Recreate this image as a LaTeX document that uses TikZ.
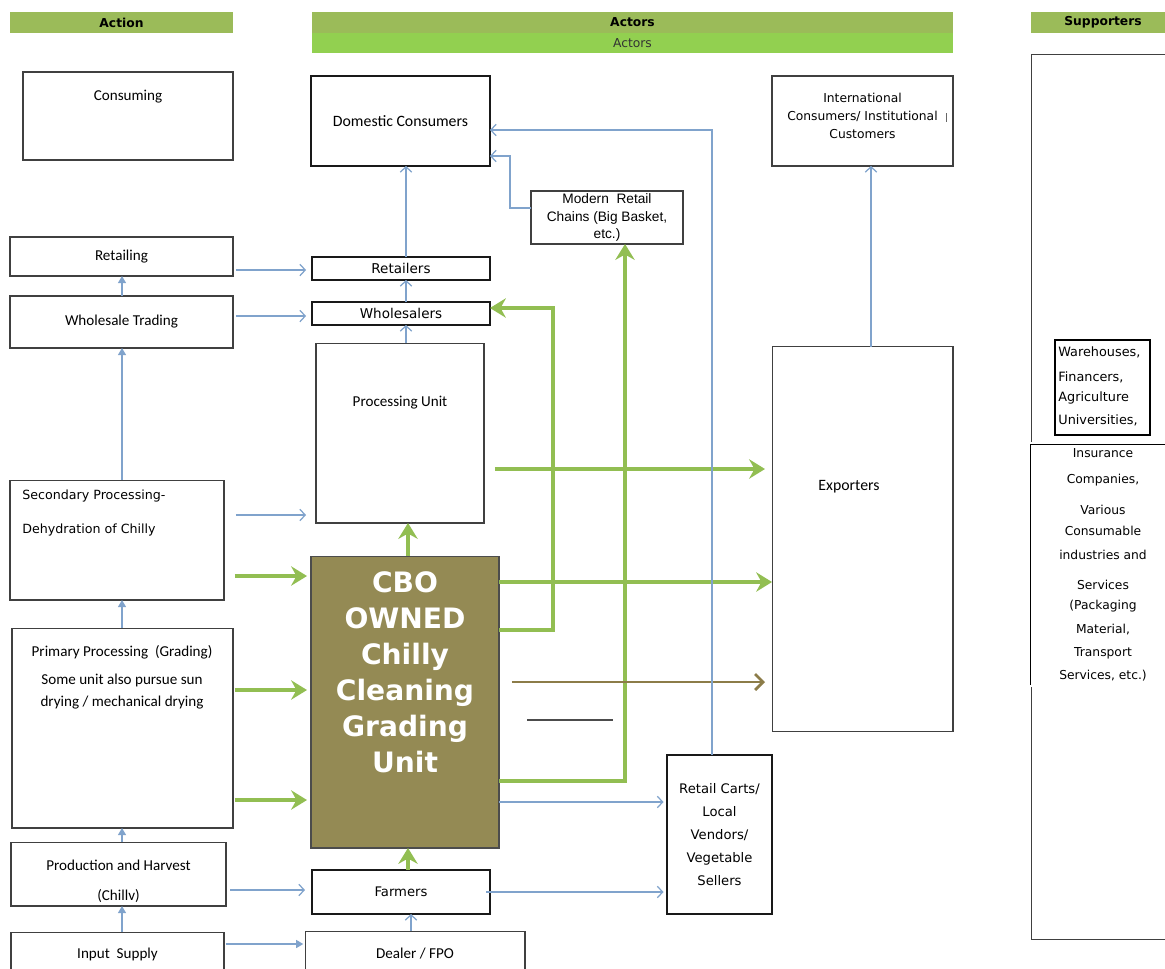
\documentclass[tikz,border=0pt]{standalone}
\usepackage{fontspec}
\setmainfont{Carlito}
\newfontfamily\vfont{DejaVu Sans}
\newfontfamily\afont{Liberation Sans}
\usetikzlibrary{arrows.meta}
\definecolor{hdgreen}{RGB}{155,187,89}
\definecolor{litegreen}{RGB}{146,208,80}
\definecolor{flowgreen}{RGB}{146,190,82}
\definecolor{cbofill}{RGB}{148,138,84}
\definecolor{brownline}{RGB}{140,124,72}
\definecolor{linkblue}{RGB}{128,163,204}
\begin{document}
\begin{tikzpicture}[x=0.02cm,y=-0.02cm,
  box/.style={draw=black!75,line width=0.6pt,inner sep=0pt,outer sep=0pt},
  thickbox/.style={box,draw=black!90,line width=1pt},
  bar/.style={fill=hdgreen,inner sep=0pt,outer sep=0pt},
  cal/.style={font=\fontsize{8.6}{11}\selectfont,align=center,inner sep=0pt},
  ver/.style={font=\vfont\fontsize{7.5}{10}\selectfont,align=center,inner sep=0pt},
  hd/.style={font=\vfont\bfseries\fontsize{7}{8}\selectfont},
  link/.style={draw=linkblue,line width=0.7pt,-{Straight Barb[length=3pt,width=6.5pt]}},
  linkfill/.style={draw=linkblue,line width=0.7pt,-{Triangle[length=4pt,width=4.5pt]}},
  flow/.style={draw=flowgreen,line width=2.8pt,-{Stealth[length=9pt,width=11pt,inset=3pt]}},
  sideflow/.style={draw=brownline,line width=1.6pt,-{Straight Barb[length=4.5pt,width=9pt]}}]
\useasboundingbox (0,0) rectangle (1165,968);
\clip (0,0) rectangle (1165,968);
\fill[white] (0,0) rectangle (1165,968);

% column headers
\node[bar,hd,minimum width=4.46cm,minimum height=0.42cm] (hdaction) at (121.5,22.5) {Action};
\node[bar,hd,minimum width=12.82cm,minimum height=0.42cm] (hdactors) at (632.5,22.5) {Actors};
\node[bar,fill=litegreen,minimum width=12.82cm,minimum height=0.4cm,font=\vfont\fontsize{7}{8}\selectfont,text=black!80] (hdactors2) at (632.5,43) {Actors};
\node[bar,hd,minimum width=2.88cm,minimum height=0.42cm] (hdsupport) at (1103,22.5) {Supporters};

% action column
\node[box,minimum width=4.2cm,minimum height=1.76cm] (consuming) at (128,116) {};
\node[cal] (consumingtxt) at (128,97) {Consuming};
\node[box,cal,minimum width=4.46cm,minimum height=0.78cm] (retailing) at (121.5,256.5) {Retailing};
\node[box,cal,minimum width=4.46cm,minimum height=1.04cm] (wholesale) at (121.5,322) {Wholesale Trading};
\node[box,minimum width=4.28cm,minimum height=2.4cm] (secondary) at (117,540) {};
\node[ver,anchor=west,font=\vfont\fontsize{7.2}{10}\selectfont] (secondarytxt1) at (22,496) {Secondary Processing-};
\node[ver,anchor=west,font=\vfont\fontsize{7.2}{10}\selectfont] (secondarytxt2) at (22,530) {Dehydration of Chilly};
\node[box,minimum width=4.42cm,minimum height=4cm] (primary) at (122.5,728) {};
\node[cal] (primarytxt1) at (122,652) {Primary Processing\ \ (Grading)};
\node[cal,font=\fontsize{8.6}{12.5}\selectfont] (primarytxt2) at (122,692) {Some unit also pursue sun\\drying / mechanical drying};
\node[box,minimum width=4.3cm,minimum height=1.28cm] (production) at (118.5,874) {};
\node[cal,font=\fontsize{8.6}{17}\selectfont] (productiontxt) at (118.5,881) {Production and Harvest\\(Chillv)};
\node[box,minimum width=4.26cm,minimum height=1.16cm] (input) at (117.5,961) {};
\node[cal] (inputtxt) at (117.5,954) {Input\ \ Supply};

% actors column
\node[thickbox,font=\fontsize{9}{11}\selectfont,minimum width=3.58cm,minimum height=1.8cm] (dc) at (400.5,121) {Domestic Consumers};
\node[thickbox,ver,font=\vfont\fontsize{7.7}{10}\selectfont,minimum width=3.56cm,minimum height=0.46cm] (retailers) at (401,268.5) {Retailers};
\node[thickbox,ver,font=\vfont\fontsize{7.7}{10}\selectfont,minimum width=3.56cm,minimum height=0.46cm] (wholesalers) at (401,313.5) {Wholesalers};
\node[box,minimum width=3.36cm,minimum height=3.6cm] (procunit) at (400,433) {};
\node[cal] (procunittxt) at (400,403) {Processing Unit};
\node[box,fill=cbofill,draw=black!70,minimum width=3.76cm,minimum height=5.84cm] (cbo) at (405,702) {};
\node[font=\vfont\bfseries\fontsize{16}{20.5}\selectfont,text=white,align=center,inner sep=0pt] (cbotxt) at (405,672) {CBO\\OWNED\\Chilly\\Cleaning\\Grading\\Unit};
\node[thickbox,ver,font=\vfont\fontsize{7.5}{10}\selectfont,minimum width=3.56cm,minimum height=0.88cm] (farmers) at (401,892) {Farmers};
\node[box,minimum width=4.4cm,minimum height=1.18cm] (dealer) at (415,960.5) {};
\node[cal] (dealertxt) at (415,954) {Dealer / FPO};
\node[box,line width=0.8pt,minimum width=3.04cm,minimum height=1.06cm,font=\afont\fontsize{7.8}{10.2}\selectfont,align=center] (mrc) at (607,217.5) {Modern\ \ Retail\\Chains (Big Basket,\\etc.)};
\node[box,line width=0.8pt,minimum width=3.62cm,minimum height=1.8cm] (intl) at (862.5,121) {};
\node[ver,font=\vfont\fontsize{7}{10.2}\selectfont] (intltxt) at (862.5,116) {International\\Consumers/ Institutional\\Customers};
\draw[black!60,line width=0.5pt] (946,113) -- (946,122);
\node[box,minimum width=3.62cm,minimum height=7.7cm] (exporters) at (862.5,539) {};
\node[cal,font=\fontsize{9}{11}\selectfont] (exporterstxt) at (849,487) {Exporters};
\node[thickbox,ver,font=\vfont\fontsize{7.5}{13}\selectfont,minimum width=2.1cm,minimum height=3.18cm] (carts) at (719.5,834.5) {Retail Carts/\\Local\\Vendors/\\Vegetable\\Sellers};

% supporters column
\node[box,minimum width=3.38cm,minimum height=17.72cm] (supbox) at (1115.5,497) {};
\node[box,draw=black,line width=0.9pt,fill=white,minimum width=1.9cm,minimum height=1.9cm] (warehouses) at (1102.5,387.5) {};
\foreach \yy/\tt [count=\k] in {352/{Warehouses,},377/{Financers,},398/{Agriculture},420/{Universities,}}
  \node[ver,anchor=west,font=\vfont\fontsize{7.3}{10}\selectfont] (ware\k) at (1058,\yy) {\tt};
\node[box,draw=black,double,double distance=0.8pt,line width=0.45pt,fill=white,minimum width=3.42cm,minimum height=4.86cm] (insurance) at (1114.5,564.5) {};
\foreach \yy/\tt [count=\k] in {453/{Insurance},480/{Companies,},510/{Various},531/{Consumable},555/{industries and},585/{Services},606/{(Packaging},630/{Material,},653/{Transport},676/{Services, etc.)}}
  \node[ver,font=\vfont\fontsize{7}{10}\selectfont] (ins\k) at (1103,\yy) {\tt};

% green flows
\coordinate (wsbend) at (553,308);
\coordinate (mrcbend) at (510,156);
\draw[flow,shorten <=6.2pt,shorten >=2.3pt] (secondary.east |- 0,576) -- (cbo.west |- 0,576);
\draw[flow,shorten <=1pt,shorten >=2.3pt] (primary.east |- 0,690) -- (cbo.west |- 0,690);
\draw[flow,shorten <=1pt,shorten >=2.3pt] (primary.east |- 0,800) -- (cbo.west |- 0,800);
\draw[flow] (cbo.north -| 408,0) -- (procunit.south -| 408,0);
\draw[flow] (farmers.north -| 408,0) -- (cbo.south -| 408,0);
\draw[flow] (cbo.east |- 0,630) -| (wsbend) -- (wholesalers.east |- wsbend);
\draw[flow] (cbo.east |- 0,781) -| (mrc.south -| 625,0);
\draw[flow,shorten <=6.2pt,shorten >=4pt] (procunit.east |- 0,469) -- (exporters.west |- 0,469);
\draw[flow] (cbo.east |- 0,582) -- (exporters.west |- 0,582);
\draw[sideflow,shorten <=7.4pt,shorten >=4pt] (cbo.east |- 0,682) -- (exporters.west |- 0,682);
\draw[black!70,line width=0.6pt] (527,720) -- (613,720);

% blue links
\coordinate (lc) at (122,0);
\coordinate (mc) at (406,0);
\foreach \a/\b in {input/production,production/primary,primary/secondary,secondary/wholesale,wholesale/retailing}
  \draw[linkfill] (\a.north -| lc) -- (\b.south -| lc);
\draw[link,shorten <=1.7pt,shorten >=3.4pt] (retailing.east |- 0,270) -- (retailers.west |- 0,270);
\draw[link,shorten <=1.7pt,shorten >=3.4pt] (wholesale.east |- 0,316) -- (wholesalers.west |- 0,316);
\draw[link,shorten <=6.8pt,shorten >=5.7pt] (secondary.east |- 0,515) -- (procunit.west |- 0,515);
\draw[link,shorten <=2.3pt,shorten >=4pt] (production.east |- 0,890) -- (farmers.west |- 0,890);
\draw[linkfill,shorten <=1pt,shorten >=1pt] (input.east |- 0,944) -- (dealer.west |- 0,944);
\draw[link] (retailers.north -| mc) -- (dc.south -| mc);
\draw[link] (wholesalers.north -| mc) -- (retailers.south -| mc);
\draw[link] (procunit.north -| mc) -- (wholesalers.south -| mc);
\draw[link] (dealer.north -| 411,0) -- (farmers.south -| 411,0);
\draw[link] (mrc.west |- 0,208) -| (mrcbend) -- (dc.east |- mrcbend);
\draw[link] (carts.north -| 712,0) |- (dc.east |- 0,130);
\draw[link,shorten >=2pt] (cbo.east |- 0,802) -- (carts.west |- 0,802);
\draw[link,shorten <=-2pt,shorten >=2pt] (farmers.east |- 0,892) -- (carts.west |- 0,892);
\draw[link] (exporters.north -| 871,0) -- (intl.south -| 871,0);
\end{tikzpicture}
\end{document}
